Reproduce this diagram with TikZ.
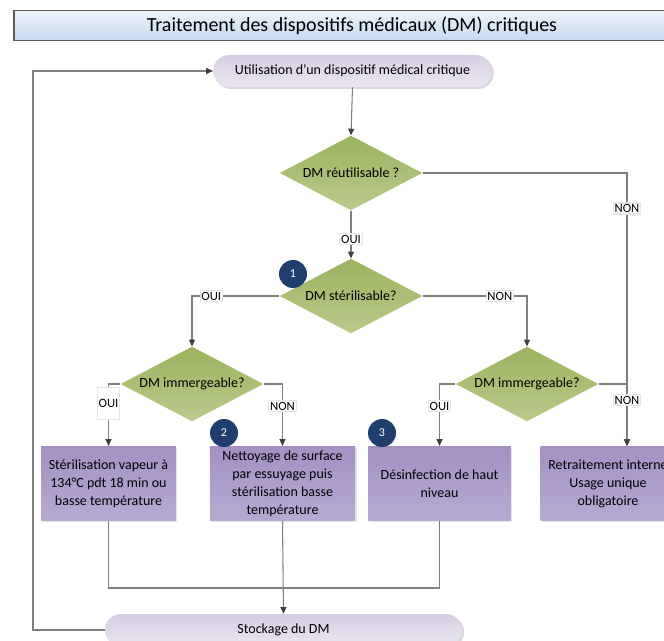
\documentclass[tikz,border=0pt]{standalone}
\usepackage{fontspec}
\setmainfont{Carlito}
\usetikzlibrary{arrows.meta,positioning,shapes.geometric,shadows}
\definecolor{titletop}{HTML}{EEF4FA}
\definecolor{titlebot}{HTML}{C4D8EC}
\definecolor{pilltop}{HTML}{D6CEE3}
\definecolor{pillbot}{HTML}{EAE6F0}
\definecolor{dectop}{HTML}{9BB35F}
\definecolor{decbot}{HTML}{BACA8B}
\definecolor{acttop}{HTML}{A391C2}
\definecolor{actbot}{HTML}{B6AAD1}
\definecolor{badge}{HTML}{1F3E6E}
\definecolor{lnc}{HTML}{7F7F7F}
\definecolor{arrc}{HTML}{404040}

\begin{document}
\begin{tikzpicture}[x=0.75pt,y=-0.75pt,font=\fontsize{10.5}{13.5}\selectfont,
  dec/.style={diamond,aspect=1.93,inner sep=0pt,minimum width=107pt,minimum height=56pt,top color=dectop,bottom color=decbot},
  act/.style={rectangle,align=center,inner sep=2pt,minimum height=56pt,top color=acttop,bottom color=actbot,drop shadow={opacity=0.2,shadow xshift=1.2pt,shadow yshift=-1.2pt}},
  term/.style={rectangle,rounded corners=12pt,minimum height=24pt,top color=pilltop,bottom color=pillbot,drop shadow={opacity=0.3,shadow xshift=1.5pt,shadow yshift=-1.5pt}},
  lbl/.style={fill=white,draw=gray!20,inner sep=1pt,font=\fontsize{9.5}{11}\selectfont},
  num/.style={circle,fill=badge,text=white,minimum size=21pt,inner sep=0pt,font=\fontsize{9}{10}\selectfont},
  ln/.style={draw=lnc,line width=0.8pt},
  arr/.style={ln,-{Triangle[length=5pt,width=4.5pt,color=arrc]}}]
\useasboundingbox (0,0) rectangle (664,641);
\clip (0,0) rectangle (664,641);
\node[draw=gray!70!black,line width=0.8pt,top color=titletop,bottom color=titlebot,minimum width=507pt,minimum height=23pt,font=\fontsize{15}{17}\selectfont] (title) at (352,25.5) {Traitement des dispositifs médicaux (DM) critiques};
\node[term,minimum width=209pt] (start) at (352.5,71) {Utilisation d’un dispositif médical critique};
\node[dec] (d1) at (351,173) {DM réutilisable ?};
\node[dec] (d2) at (351,296) {DM stérilisable?};
\node[dec] (d3) at (192,384) {DM immergeable?};
\node[dec] (d4) at (527,384) {DM immergeable?};
\node[act,minimum width=101pt] (vap) at (108.5,483.5) {Stérilisation vapeur à\\134°C pdt 18 min ou\\basse température};
\node[act,minimum width=109pt] (net) at (282.5,483.5) {Nettoyage de surface\\par essuyage puis\\stérilisation basse\\température};
\node[act,minimum width=107pt] (des) at (439.5,483.5) {Désinfection de haut\\niveau};
\node[act,minimum width=101pt] (ret) at (608,483.5) {Retraitement interne\\Usage unique\\obligatoire};
\node[term,minimum width=268pt] (store) at (283.5,630) {Stockage du DM};
\node[num] (n1) at (293,274) {1};
\node[num] (n2) at (224,433) {2};
\node[num] (n3) at (382,433) {3};
\coordinate (loop) at (33,71);
\coordinate (rtop) at (627,446);
\coordinate (mrg) at (282.5,588);
% connectors
\draw[arr] (store.west) -| (loop) -- (start.west);
\draw[arr] (start.south) -- (d1.north);
\draw[arr] (d1.south) -- node[lbl,pos=0.6] {OUI} (d2.north);
\draw[arr] (d1.east) -| node[lbl,pos=0.565] {NON} (rtop);
\draw[arr] (d2.west) -| node[lbl,pos=0.39] {OUI} (d3.north);
\draw[arr] (d2.east) -| node[lbl,pos=0.37] {NON} (d4.north);
\draw[arr] (d3.west) -| node[lbl,pos=0.66,minimum height=24pt] {OUI} (vap.north);
\draw[arr] (d3.east) -| node[lbl,pos=0.68] {NON} (net.north);
\draw[arr] (d4.west) -| node[lbl,pos=0.68] {OUI} (des.north);
\draw[arr] (d4.east) -| node[lbl,pos=0.63] {NON} (rtop);
\draw[ln] (vap.south) |- (mrg) -| (des.south);
\draw[arr] (net.south) -- (store.north);
\end{tikzpicture}
\end{document}
